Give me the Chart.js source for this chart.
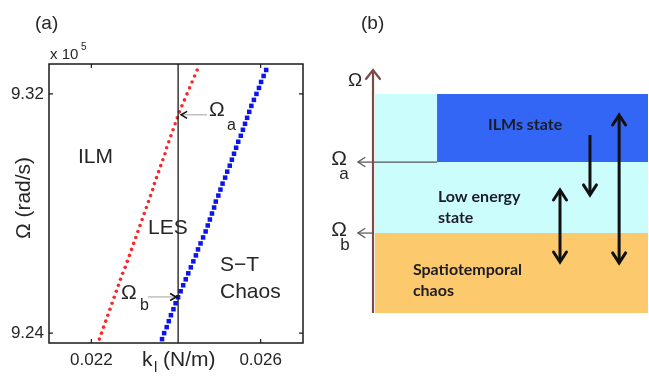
<!DOCTYPE html>
<html lang="en">
<head>
<meta charset="UTF-8">
<title>ILM / LES / S-T chaos</title>
<style>
  html, body { margin: 0; padding: 0; background: #fff; }
  #wrap { position: relative; width: 649px; height: 377px; overflow: hidden; }
  canvas { position: absolute; top: 0; }
  #chartA { left: 0; }
  #chartB { left: 320px; }
</style>
</head>
<body>
<div id="wrap">
  <canvas id="chartA" width="320" height="377"></canvas>
  <canvas id="chartB" width="329" height="377"></canvas>
</div>
<script src="https://cdn.jsdelivr.net/npm/chart.js"></script>
<script>
// ---- panel (a) data, Omega in units of 1e5 rad/s, k_l in N/m ----
const omega = [9.238, 9.240, 9.242, 9.244, 9.246, 9.248, 9.250, 9.252, 9.254, 9.256,
  9.258, 9.260, 9.262, 9.264, 9.266, 9.268, 9.270, 9.272, 9.274, 9.276,
  9.278, 9.280, 9.282, 9.284, 9.286, 9.288, 9.290, 9.292, 9.294, 9.296,
  9.298, 9.300, 9.302, 9.304, 9.306, 9.308, 9.310, 9.312, 9.314, 9.316,
  9.318, 9.320, 9.322, 9.324, 9.326, 9.328];
// red: ILM -> LES boundary
const kRed = [0.02219, 0.02224, 0.02229, 0.02234, 0.02239, 0.02244, 0.02249, 0.02254, 0.02259, 0.02264,
  0.02269, 0.02274, 0.02280, 0.02285, 0.02290, 0.02295, 0.02300, 0.02305, 0.02310, 0.02315,
  0.02320, 0.02325, 0.02330, 0.02335, 0.02340, 0.02345, 0.02349, 0.02354, 0.02359, 0.02364,
  0.02369, 0.02374, 0.02378, 0.02383, 0.02388, 0.02393, 0.02398, 0.02403, 0.02408, 0.02414,
  0.02420, 0.02426, 0.02432, 0.02438, 0.02444, 0.02450];
// blue: LES -> spatiotemporal chaos boundary
const kBlue = [0.02367, 0.02372, 0.02378, 0.02383, 0.02388, 0.02394, 0.02399, 0.02405, 0.02411, 0.02417,
  0.02423, 0.02429, 0.02435, 0.02441, 0.02447, 0.02452, 0.02458, 0.02464, 0.02470, 0.02475,
  0.02480, 0.02485, 0.02490, 0.02494, 0.02500, 0.02505, 0.02510, 0.02516, 0.02521, 0.02527,
  0.02532, 0.02537, 0.02542, 0.02547, 0.02553, 0.02558, 0.02563, 0.02568, 0.02573, 0.02578,
  0.02584, 0.02590, 0.02596, 0.02601, 0.02607, 0.02613];
const kCut = 0.02405;        // vertical line
const omegaA = 9.313;        // Omega_a
const omegaB = 9.2521;       // Omega_b
const xTicks = [0.022, 0.026];
const yTicks = [9.24, 9.32];
const xRange = [0.021, 0.027];
const yRange = [9.2367, 9.33];

// ---- panel (b) data (schematic levels, 0..100) ----
const regionNames = ['ILMs state', 'Low energy state', 'Spatiotemporal chaos'];
const regionFrom = [23.3, 0.7, 0.7];
const regionTo = [100, 100, 100];
const regionTop = [90.1, 90.1, 32.9];
const regionBottom = [62.1, 32.9, 0];
const regionColors = ['#3366f4', '#ccfdfd', '#fcc96c'];
const levelA = 62.1;
const levelB = 32.9;
const arrowX = [78.9, 89.5, 68.0];
const arrowFrom = [73.3, 81.5, 50.6];
const arrowTo = [48.6, 20.6, 21.0];
const arrowBoth = [false, true, true];

const SANS = '"Liberation Sans", Arial, sans-serif';
const INK = '#262626';

function chevron(ctx, x, y, dx, dy, len, half) {
  // tip at (x,y), pointing in direction (dx,dy)
  const bx = x - dx * len, by = y - dy * len;
  ctx.beginPath();
  ctx.moveTo(bx - dy * half, by + dx * half);
  ctx.lineTo(x, y);
  ctx.lineTo(bx + dy * half, by - dx * half);
  ctx.stroke();
}

function text(ctx, s, x, y, font, align) {
  ctx.font = font;
  ctx.textAlign = align || 'left';
  ctx.textBaseline = 'middle';
  ctx.fillText(s, x, y);
}

// ---------- panel (a) ----------
const boxPlugin = {
  id: 'boxA',
  afterDatasetsDraw(chart) {
    const { ctx, chartArea: a, scales: { x, y } } = chart;
    ctx.save();
    ctx.strokeStyle = '#1a1a1a';
    ctx.lineWidth = 1.5;
    ctx.strokeRect(a.left, a.top, a.right - a.left, a.bottom - a.top);
    ctx.lineWidth = 1.2;
    ctx.beginPath();
    xTicks.forEach(v => {
      const px = x.getPixelForValue(v);
      ctx.moveTo(px, a.bottom); ctx.lineTo(px, a.bottom - 4);
      ctx.moveTo(px, a.top); ctx.lineTo(px, a.top + 4);
    });
    yTicks.forEach(v => {
      const py = y.getPixelForValue(v);
      ctx.moveTo(a.left, py); ctx.lineTo(a.left + 4, py);
      ctx.moveTo(a.right, py); ctx.lineTo(a.right - 4, py);
    });
    ctx.stroke();

    // annotation arrows
    const cut = x.getPixelForValue(kCut);
    const ya = y.getPixelForValue(omegaA);
    const yb = y.getPixelForValue(omegaB);
    ctx.strokeStyle = '#a0a0a0';
    ctx.lineWidth = 1;
    ctx.beginPath();
    ctx.moveTo(207, ya); ctx.lineTo(cut + 4, ya);
    ctx.moveTo(148, yb); ctx.lineTo(cut - 3, yb);
    ctx.stroke();
    ctx.strokeStyle = '#111';
    ctx.lineWidth = 1.6;
    chevron(ctx, cut + 3, ya, -1, 0, 6, 3.5);
    chevron(ctx, cut - 2, yb, 1, 0, 6, 3.5);

    // texts
    ctx.fillStyle = INK;
    text(ctx, '(a)', 35, 24, '19px ' + SANS);
    text(ctx, 'x 10', 50, 55, '15px ' + SANS);
    text(ctx, '5', 81, 47, '10px ' + SANS);
    text(ctx, 'ILM', 78, 157, '21px ' + SANS);
    text(ctx, 'LES', 148, 228, '21px ' + SANS);
    text(ctx, 'S\u2212T', 220, 265, '21px ' + SANS);
    text(ctx, 'Chaos', 220, 292, '21px ' + SANS);
    text(ctx, '\u03A9', 209, 110, '21px ' + SANS);
    text(ctx, 'a', 227, 126, '16px ' + SANS);
    text(ctx, '\u03A9', 121, 293, '21px ' + SANS);
    text(ctx, 'b', 140, 306, '16px ' + SANS);
    // x title with subscript
    text(ctx, 'k', 142, 360, '21px ' + SANS);
    text(ctx, 'l', 154, 368, '15px ' + SANS);
    text(ctx, '(N/m)', 163, 360, '21px ' + SANS);
    // y title rotated
    ctx.save();
    ctx.translate(24, 198);
    ctx.rotate(-Math.PI / 2);
    text(ctx, '\u03A9 (rad/s)', 0, 0, '21px ' + SANS, 'center');
    ctx.restore();
    ctx.restore();
  }
};

new Chart(document.getElementById('chartA'), {
  type: 'scatter',
  data: {
    datasets: [
      {
        label: 'k cut',
        data: [{ x: kCut, y: yRange[0] }, { x: kCut, y: yRange[1] }],
        showLine: true,
        borderColor: '#1a1a1a',
        borderWidth: 1.3,
        pointRadius: 0
      },
      {
        label: 'ILM edge',
        data: kRed.map((k, i) => ({ x: k, y: omega[i] })),
        pointStyle: 'circle',
        pointRadius: 1.8,
        backgroundColor: '#f42a2a',
        borderWidth: 0
      },
      {
        label: 'chaos edge',
        data: kBlue.map((k, i) => ({ x: k, y: omega[i] })),
        pointStyle: 'rect',
        pointRadius: 3.2,
        backgroundColor: '#0c14ee',
        borderWidth: 0
      }
    ]
  },
  options: {
    responsive: false,
    animation: false,
    devicePixelRatio: 1,
    events: [],
    layout: { padding: { top: 64, right: 17, left: 0, bottom: 0 } },
    plugins: { legend: { display: false }, tooltip: { enabled: false } },
    scales: {
      x: {
        type: 'linear',
        min: xRange[0],
        max: xRange[1],
        grid: { display: false, drawTicks: false },
        border: { display: false },
        afterBuildTicks: s => { s.ticks = xTicks.map(v => ({ value: v })); },
        afterFit: s => { s.height = 34; },
        ticks: { padding: 7, color: INK, font: { family: SANS, size: 17 }, callback: v => v.toFixed(3) }
      },
      y: {
        min: yRange[0],
        max: yRange[1],
        grid: { display: false, drawTicks: false },
        border: { display: false },
        afterBuildTicks: s => { s.ticks = yTicks.map(v => ({ value: v })); },
        afterFit: s => { s.width = 49; },
        ticks: { padding: 5, color: INK, font: { family: SANS, size: 17 }, callback: v => v.toFixed(2) }
      }
    }
  },
  plugins: [boxPlugin]
});

// ---------- panel (b) ----------
const schemePlugin = {
  id: 'schemeB',
  afterDatasetsDraw(chart) {
    const { ctx, scales: { x, y } } = chart;
    ctx.save();
    ctx.lineCap = 'round';
    ctx.lineJoin = 'miter';
    // transition arrows
    ctx.strokeStyle = '#111';
    ctx.lineWidth = 3;
    arrowX.forEach((xv, i) => {
      const px = x.getPixelForValue(xv);
      const p0 = y.getPixelForValue(arrowFrom[i]);
      const p1 = y.getPixelForValue(arrowTo[i]);
      const d = p1 > p0 ? 1 : -1;
      chevron(ctx, px, p1, 0, d, 10, 6.5);
      if (arrowBoth[i]) chevron(ctx, px, p0, 0, -d, 10, 6.5);
    });
    // Omega axis head
    ctx.strokeStyle = '#7a4b4b';
    ctx.lineWidth = 2.2;
    chevron(ctx, x.getPixelForValue(0), y.getPixelForValue(100), 0, -1, 9, 7);
    // Omega_a / Omega_b heads
    ctx.strokeStyle = '#555';
    ctx.lineWidth = 1.2;
    const left = x.getPixelForValue(-5.5);
    chevron(ctx, left, y.getPixelForValue(levelA), -1, 0, 7, 4.5);
    chevron(ctx, left, y.getPixelForValue(levelB), -1, 0, 7, 4.5);

    // texts
    ctx.fillStyle = INK;
    text(ctx, '(b)', 41, 24, '19px ' + SANS);
    text(ctx, '\u03A9', 35, 81, '19px ' + SANS, 'center');
    text(ctx, '\u03A9', 19, 159, '21px ' + SANS, 'center');
    text(ctx, 'a', 24, 174, '17px ' + SANS, 'center');
    text(ctx, '\u03A9', 19, 230, '21px ' + SANS, 'center');
    text(ctx, 'b', 25, 245, '17px ' + SANS, 'center');
    ctx.fillStyle = '#1c1c28';
    const lab = 'bold 16px Lato, "Open Sans", sans-serif';
    text(ctx, 'ILMs state', x.getPixelForValue(55.3), y.getPixelForValue(77.4), lab, 'center');
    text(ctx, 'Low energy', x.getPixelForValue(23.6), y.getPixelForValue(47.7), lab);
    text(ctx, 'state', x.getPixelForValue(23.6), y.getPixelForValue(39.1), lab);
    text(ctx, 'Spatiotemporal', x.getPixelForValue(14.5), y.getPixelForValue(17.7), lab);
    text(ctx, 'chaos', x.getPixelForValue(14.5), y.getPixelForValue(9.1), lab);
    ctx.restore();
  }
};

const bSets = [];
// arrows shafts and guide lines first (drawn on top)
arrowX.forEach((xv, i) => {
  bSets.push({
    label: 'transition ' + (i + 1),
    data: [{ x: xv, y: arrowFrom[i] }, { x: xv, y: arrowTo[i] }],
    borderColor: '#111', borderWidth: 3, pointRadius: 0, fill: false
  });
});
bSets.push({
  label: 'Omega axis',
  data: [{ x: 0, y: 0 }, { x: 0, y: 100 }],
  borderColor: '#7a4b4b', borderWidth: 2.2, pointRadius: 0, fill: false, clip: false
});
bSets.push({
  label: 'Omega_a',
  data: [{ x: -5.5, y: levelA }, { x: regionFrom[0], y: levelA }],
  borderColor: '#555', borderWidth: 1.2, pointRadius: 0, fill: false, clip: false
});
bSets.push({
  label: 'Omega_b',
  data: [{ x: -5.5, y: levelB }, { x: 0, y: levelB }],
  borderColor: '#555', borderWidth: 1.2, pointRadius: 0, fill: false, clip: false
});
regionNames.forEach((name, i) => {
  bSets.push({
    label: name,
    data: [{ x: regionFrom[i], y: regionTop[i] }, { x: regionTo[i], y: regionTop[i] }],
    borderWidth: 0, borderColor: 'rgba(0,0,0,0)', pointRadius: 0,
    backgroundColor: regionColors[i],
    fill: { value: regionBottom[i] }
  });
});

new Chart(document.getElementById('chartB'), {
  type: 'line',
  data: { datasets: bSets },
  options: {
    responsive: false,
    animation: false,
    devicePixelRatio: 1,
    events: [],
    layout: { padding: { top: 70, right: 1, left: 53, bottom: 64 } },
    plugins: { legend: { display: false }, tooltip: { enabled: false } },
    scales: {
      x: { type: 'linear', display: false, min: 0, max: 100 },
      y: { type: 'linear', display: false, min: 0, max: 100 }
    }
  },
  plugins: [schemePlugin]
});
</script>
</body>
</html>
